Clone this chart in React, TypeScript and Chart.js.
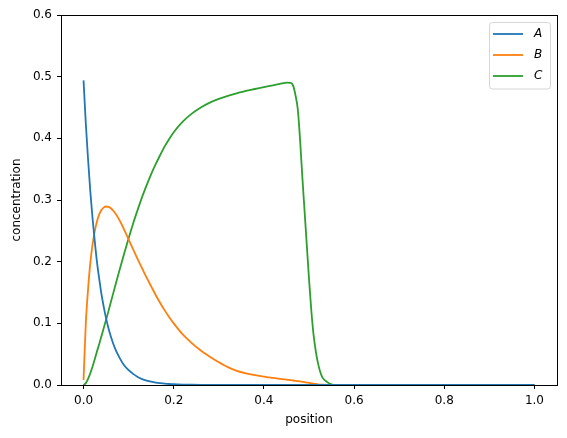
import React, { useEffect, useRef } from 'react';
import { Chart, registerables } from 'chart.js';

Chart.register(...registerables);

// sample positions shared by all three species
const positions = [
  0, 0.005, 0.01, 0.015, 0.02, 0.025, 0.03, 0.035, 0.04, 0.045,
  0.05, 0.055, 0.06, 0.07, 0.08, 0.09, 0.1, 0.11, 0.12, 0.13, 0.14,
  0.15, 0.16, 0.17, 0.18, 0.19, 0.2, 0.22, 0.24, 0.26, 0.28,
  0.3, 0.32, 0.34, 0.36, 0.38, 0.4, 0.42, 0.44, 0.45, 0.46,
  0.465, 0.47, 0.475, 0.48, 0.485, 0.49, 0.495, 0.5, 0.505, 0.51,
  0.515, 0.52, 0.525, 0.53, 0.54, 0.55, 0.56, 0.6, 0.7, 0.8,
  0.9, 1.0,
];

const concA = [
  0.494, 0.424, 0.366, 0.314, 0.27, 0.232, 0.198, 0.171, 0.146, 0.126,
  0.108, 0.093, 0.08, 0.059, 0.044, 0.032, 0.024, 0.018, 0.013, 0.0096, 0.0072,
  0.0054, 0.004, 0.003, 0.0022, 0.0016, 0.0012, 0.0007, 0.0004, 0.0002, 0.0001,
  0, 0, 0, 0, 0, 0, 0, 0, 0, 0,
  0, 0, 0, 0, 0, 0, 0, 0, 0, 0,
  0, 0, 0, 0, 0, 0, 0, 0, 0, 0,
  0, 0,
];

const concB = [
  0.008, 0.1, 0.155, 0.198, 0.228, 0.25, 0.266, 0.277, 0.284, 0.288,
  0.2895, 0.289, 0.287, 0.279, 0.267, 0.252, 0.236, 0.22, 0.204, 0.189, 0.174,
  0.16, 0.146, 0.133, 0.121, 0.11, 0.1, 0.082, 0.068, 0.056, 0.046,
  0.037, 0.029, 0.023, 0.019, 0.016, 0.0135, 0.0115, 0.0096, 0.0087, 0.0078,
  0.0073, 0.0068, 0.0063, 0.0058, 0.0052, 0.0046, 0.004, 0.0034, 0.0028, 0.0022,
  0.0016, 0.0011, 0.0007, 0.0004, 0.0001, 0, 0, 0, 0, 0,
  0, 0,
];

const concC = [
  0, 0.003, 0.01, 0.019, 0.03, 0.042, 0.055, 0.067, 0.08, 0.093,
  0.106, 0.119, 0.133, 0.16, 0.187, 0.213, 0.238, 0.262, 0.284, 0.305, 0.324,
  0.342, 0.358, 0.373, 0.387, 0.399, 0.41, 0.427, 0.44, 0.45, 0.458,
  0.464, 0.469, 0.473, 0.477, 0.48, 0.483, 0.486, 0.489, 0.4905, 0.49,
  0.485, 0.47, 0.448, 0.4, 0.34, 0.284, 0.228, 0.172, 0.122, 0.082,
  0.055, 0.035, 0.021, 0.012, 0.005, 0.001, 0, 0, 0, 0,
  0, 0,
];

const seriesLabels = ['A', 'B', 'C'];
const seriesColors = ['#1f77b4', '#ff7f0e', '#2ca02c'];
const xTicks = [0, 0.2, 0.4, 0.6, 0.8, 1.0];

const FONT = '"DejaVu Sans", sans-serif';

const framePlugin = {
  id: 'frame',
  afterDatasetsDraw(chart: any) {
    const { ctx, chartArea } = chart;
    ctx.save();
    ctx.strokeStyle = '#000';
    ctx.lineWidth = 1;
    ctx.strokeRect(
      Math.round(chartArea.left) + 0.5,
      Math.round(chartArea.top) + 0.5,
      Math.round(chartArea.right - chartArea.left),
      Math.round(chartArea.bottom - chartArea.top)
    );
    ctx.restore();
  },
};

const legendPlugin = {
  id: 'boxLegend',
  afterDraw(chart: any) {
    const { ctx, chartArea } = chart;
    const w = 61;
    const h = 66.5;
    const x = chartArea.right - 6.5 - w;
    const y = chartArea.top + 7.5;
    ctx.save();
    ctx.beginPath();
    ctx.roundRect(x, y, w, h, 3);
    ctx.fillStyle = 'rgba(255,255,255,0.8)';
    ctx.fill();
    ctx.strokeStyle = 'rgba(204,204,204,0.8)';
    ctx.lineWidth = 1;
    ctx.stroke();
    chart.data.datasets.forEach((ds: any, i: number) => {
      const ly = y + 11.5 + i * 21;
      ctx.beginPath();
      ctx.moveTo(x + 3.5, ly);
      ctx.lineTo(x + 33.5, ly);
      ctx.strokeStyle = ds.borderColor;
      ctx.lineWidth = 1.8;
      ctx.stroke();
      ctx.fillStyle = '#000';
      ctx.font = `italic 12px ${FONT}`;
      ctx.textBaseline = 'middle';
      ctx.textAlign = 'left';
      ctx.fillText(ds.label, x + 44.5, ly);
    });
    ctx.restore();
  },
};

const App: React.FC = () => {
  const canvasRef = useRef<HTMLCanvasElement>(null);
  const chartRef = useRef<Chart | null>(null);

  useEffect(() => {
    document.body.style.margin = '0';
    if (!canvasRef.current) return;
    if (chartRef.current) chartRef.current.destroy();

    const series = [concA, concB, concC];
    chartRef.current = new Chart(canvasRef.current, {
      type: 'line',
      data: {
        datasets: series.map((vals, i) => ({
          label: seriesLabels[i],
          data: positions.map((p, j) => ({ x: p, y: vals[j] })),
          borderColor: seriesColors[i],
          backgroundColor: seriesColors[i],
          borderWidth: 1.8,
          pointRadius: 0,
          cubicInterpolationMode: 'monotone' as const,
          fill: false,
        })),
      },
      options: {
        animation: false,
        responsive: true,
        maintainAspectRatio: false,
        layout: { padding: { top: 15, right: 10, left: 0, bottom: 0 } },
        plugins: {
          legend: { display: false },
          tooltip: { enabled: false },
        },
        scales: {
          x: {
            type: 'linear',
            min: -0.05,
            max: 1.05,
            afterBuildTicks: (scale: any) => {
              scale.ticks = xTicks.map((v) => ({ value: v }));
            },
            afterFit: (scale: any) => {
              scale.height = 53;
            },
            border: { display: false },
            grid: {
              drawOnChartArea: false,
              drawTicks: true,
              tickLength: 4,
              color: '#000',
              lineWidth: 1,
            },
            ticks: {
              color: '#000',
              padding: 5,
              maxRotation: 0,
              font: { family: FONT, size: 12 },
              callback: (v: any) => Number(v).toFixed(1),
            },
            title: {
              display: true,
              text: 'position',
              color: '#000',
              font: { family: FONT, size: 12 },
              padding: { top: 0, bottom: 11 },
            },
          },
          y: {
            type: 'linear',
            min: 0,
            max: 0.6,
            afterFit: (scale: any) => {
              scale.width = 61;
            },
            border: { display: false },
            grid: {
              drawOnChartArea: false,
              drawTicks: true,
              tickLength: 4,
              color: '#000',
              lineWidth: 1,
            },
            ticks: {
              stepSize: 0.1,
              color: '#000',
              padding: 5,
              font: { family: FONT, size: 12 },
              callback: (v: any) => Number(v).toFixed(1),
            },
            title: {
              display: true,
              text: 'concentration',
              color: '#000',
              font: { family: FONT, size: 12 },
              padding: { top: 9.5, bottom: 0 },
            },
          },
        },
      },
      plugins: [framePlugin, legendPlugin],
    });

    return () => {
      if (chartRef.current) {
        chartRef.current.destroy();
        chartRef.current = null;
      }
    };
  }, []);

  return (
    <div style={{ width: 567, height: 438, position: 'relative', background: '#fff' }}>
      <canvas ref={canvasRef} />
    </div>
  );
};

export default App;
